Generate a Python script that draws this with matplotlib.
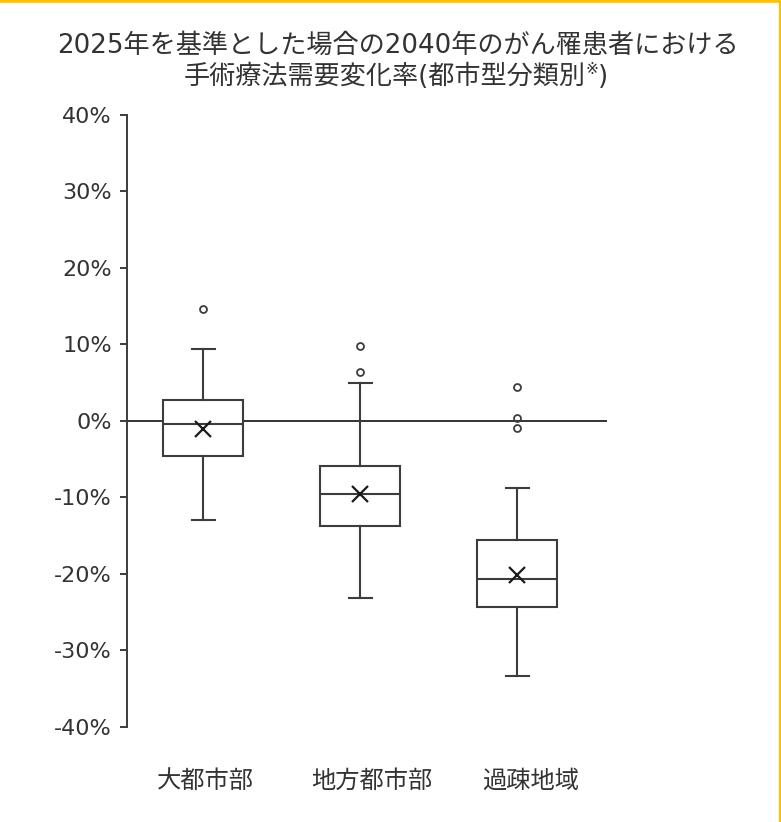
import matplotlib
matplotlib.use('Agg')
import matplotlib.pyplot as plt
import matplotlib.transforms as mtransforms
from matplotlib.lines import Line2D

# wide latin digits from DejaVu, Japanese glyphs from Noto CJK
plt.rcParams['font.family'] = ['DejaVu Sans', 'Noto Sans CJK JP']

# values in percent
categories = ['大都市部', '地方都市部', '過疎地域']
whisker_low = [-13.0, -23.1, -33.3]
q1 = [-4.6, -13.7, -24.3]
median = [-0.4, -9.6, -20.7]
q3 = [2.8, -5.9, -15.6]
whisker_high = [9.4, 5.0, -8.8]
mean = [-1.0, -9.5, -20.1]
outliers = [[14.7], [9.8, 6.4], [4.4, 0.4, -0.9]]
yticks = [-40, -30, -20, -10, 0, 10, 20, 30, 40]

title_line1 = '2025年を基準とした場合の2040年のがん罹患者における'
title_line2 = '手術療法需要変化率(都市型分類別'

line_col = '#3c3c3c'
text_col = '#333333'

stats = []
for i, name in enumerate(categories):
    stats.append({
        'label': name,
        'whislo': whisker_low[i],
        'q1': q1[i],
        'med': median[i],
        'q3': q3[i],
        'whishi': whisker_high[i],
        'mean': mean[i],
        'fliers': outliers[i],
    })

fig = plt.figure(figsize=(7.81, 8.22), dpi=100)
ax = fig.add_axes([0.1626, 0.1156, 0.6142, 0.7445])

ax.axhline(0, color='#111111', lw=1.2, zorder=1)

pos = list(range(1, len(categories) + 1))
ax.bxp(stats, positions=pos, widths=0.51, capwidths=0.146,
       showmeans=True, patch_artist=True,
       boxprops=dict(facecolor='white', edgecolor=line_col, linewidth=1.5),
       whiskerprops=dict(color=line_col, linewidth=1.5),
       capprops=dict(color=line_col, linewidth=1.5),
       medianprops=dict(color=line_col, linewidth=1.5),
       meanprops=dict(marker='x', markeredgecolor='#1a1a1a', markersize=11,
                      markeredgewidth=1.6),
       flierprops=dict(marker='o', markerfacecolor='none', markeredgecolor=line_col,
                       markersize=5, markeredgewidth=1.3),
       zorder=2)

ax.set_xlim(0.514, 3.569)
ax.set_ylim(-40, 40)
ax.set_yticks(yticks)
ax.set_yticklabels([f'{v}%' for v in yticks])
ax.set_xticks(pos)
ax.set_xticklabels(categories)

for s in ['top', 'right', 'bottom']:
    ax.spines[s].set_visible(False)
ax.spines['left'].set_color(line_col)
ax.spines['left'].set_linewidth(1.4)
ax.tick_params(axis='y', length=5, width=1.4, color=line_col, pad=6,
               labelsize=16, labelcolor=text_col)
ax.tick_params(axis='x', length=0, pad=30, labelsize=17.5, labelcolor=text_col)

# the category labels sit a little right of the boxes in the reference
label_shift_px = [2, 12, 13]
for lab, dx in zip(ax.get_xticklabels(), label_shift_px):
    lab.set_transform(lab.get_transform() +
                      mtransforms.ScaledTranslation(dx / 100, 0, fig.dpi_scale_trans))

# title, two lines, with a small raised ※ in the second line
fig.text(0.51, 1 - 46 / 822, title_line1, ha='center', va='center',
         fontsize=18.8, color=text_col)
t_main = fig.text(0.5, 1 - 77 / 822, title_line2, ha='left', va='center',
                  fontsize=18.8, color=text_col)
t_ref = fig.text(0, 0, '※', fontsize=11, color=text_col)
t_close = fig.text(0, 0, ')', fontsize=18.8, color=text_col, va='center')

fig.canvas.draw()
r = fig.canvas.get_renderer()
bb = t_main.get_window_extent(r)
bref = t_ref.get_window_extent(r)
bcl = t_close.get_window_extent(r)
total = bb.width + bref.width + bcl.width
W, H = fig.bbox.width, fig.bbox.height
x0 = W * 0.507 - total / 2
t_main.set_x(x0 / W)
t_ref.set_position(((x0 + bb.width) / W, (bb.y0 + bb.height * 0.6) / H))
t_close.set_position(((x0 + bb.width + bref.width) / W, 1 - 77 / 822))

# frame edges visible in the reference crop
fig.add_artist(Line2D([0, 1], [1, 1], transform=fig.transFigure,
                      color='#FFC000', lw=4))
fig.add_artist(Line2D([1, 1], [0, 1], transform=fig.transFigure,
                      color='#FFC000', lw=3))

fig.savefig('out.png', dpi=100)
